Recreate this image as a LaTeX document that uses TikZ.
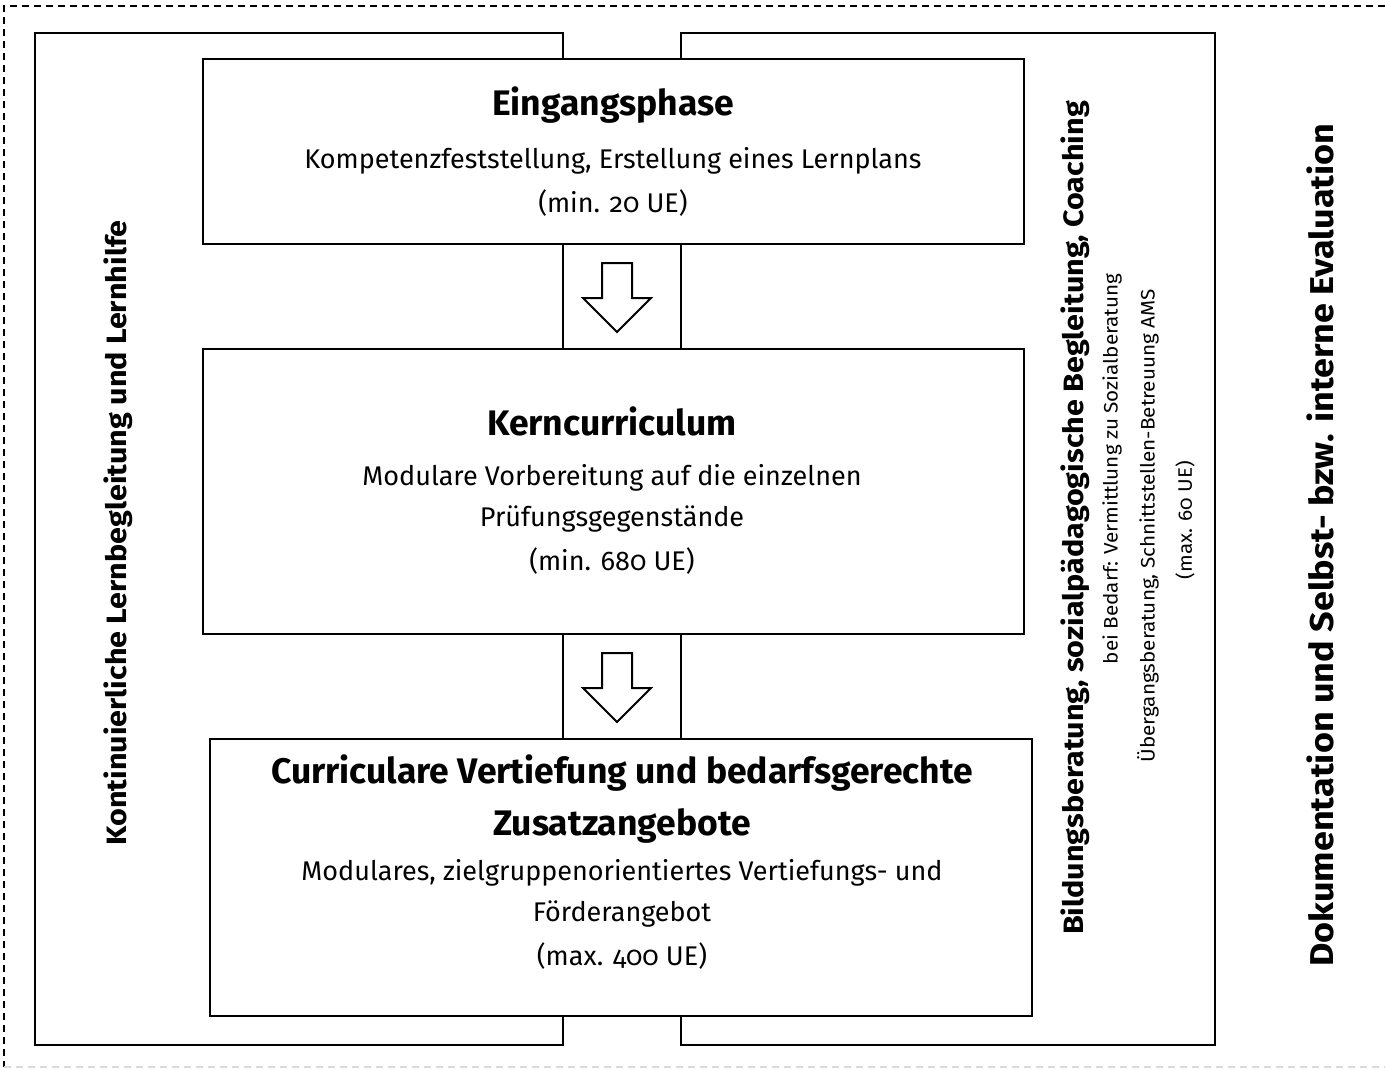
\documentclass[tikz,border=0pt]{standalone}
\usepackage{fontspec}
\setmainfont{Fira Sans}[Numbers=OldStyle]
\newfontfamily\widefont{Fira Sans}[Numbers=OldStyle, FakeStretch=1.09]
\newfontfamily\sidefont{Fira Sans}[Numbers=OldStyle, FakeStretch=1.06]
\usetikzlibrary{calc}
\tikzset{
  box/.style={draw, line width=2.2pt, anchor=north west, inner sep=0pt},
  frame/.style={line width=2.2pt, line join=miter},
  ttl/.style={font=\bfseries\fontsize{35.5}{42}\selectfont, inner sep=0pt},
  sub/.style={font=\fontsize{27}{32}\selectfont, inner sep=0pt},
  blockarrow/.style={draw, line width=2pt, fill=white, line join=miter},
  sidebold/.style={font=\widefont\bfseries\fontsize{28}{33}\selectfont, rotate=90, inner sep=0pt},
  condbold/.style={font=\widefont\bfseries\fontsize{28}{33}\selectfont, rotate=90, inner sep=0pt},
  condsmall/.style={font=\sidefont\fontsize{19.5}{23}\selectfont, rotate=90, inner sep=0pt},
  dokbold/.style={font=\widefont\bfseries\fontsize{33}{39}\selectfont, rotate=90, inner sep=0pt},
}
\begin{document}
\begin{tikzpicture}[x=1pt,y=-1pt]
\useasboundingbox (0,0) rectangle (1385,1070);
% dashed outer border
\draw[line width=1.2pt, dash pattern=on 7pt off 5pt] (1385,6) -- (4,6) -- (4,1067);
\draw[line width=1.2pt, black!15, dash pattern=on 7pt off 5pt] (4,1067) -- (1385,1067);
% boxes
\node[box, minimum width=821pt, minimum height=185pt] (b1) at (202,58) {};
\node[box, minimum width=821pt, minimum height=285pt] (b2) at (202,348) {};
\node[box, minimum width=822pt, minimum height=277pt] (b3) at (209,738) {};
% guide coordinates
\coordinate (L) at (563,0);
\coordinate (R) at (681,0);
\coordinate (FL) at (35,33);
\coordinate (FR) at (1215,33);
\coordinate (FB) at (0,1045);
% left frame
\draw[frame] (L |- b1.north) -- (L |- FL) -- (FL) -- (FL |- FB) -- (L |- FB) -- (L |- b3.south);
% right frame
\draw[frame] (R |- b1.north) -- (R |- FR) -- (FR) -- (FR |- FB) -- (R |- FB) -- (R |- b3.south);
% connectors between boxes
\draw[frame] (L |- b1.south) -- (L |- b2.north);
\draw[frame] (R |- b1.south) -- (R |- b2.north);
\draw[frame] (L |- b2.south) -- (L |- b3.north);
\draw[frame] (R |- b2.south) -- (R |- b3.north);
% block arrows
\coordinate (A1) at (617,263);
\coordinate (A2) at (617,653);
\foreach \a in {A1,A2}{
  \draw[blockarrow] ($(\a)+(-15,0)$) -- ($(\a)+(15,0)$) -- ($(\a)+(15,35)$) -- ($(\a)+(34,35)$)
    -- ($(\a)+(0,69)$) -- ($(\a)+(-34,35)$) -- ($(\a)+(-15,35)$) -- cycle;
}
% box 1 texts
\node[ttl] (t1) at (613,105) {Eingangsphase};
\node[sub] (s1a) at (613,161) {Kompetenzfeststellung, Erstellung eines Lernplans};
\node[sub] (s1b) at (613,203) {(min. 20 UE)};
% box 2 texts
\node[ttl] (t2) at (612,421) {Kerncurriculum};
\node[sub] (s2a) at (612,478) {Modulare Vorbereitung auf die einzelnen};
\node[sub] (s2b) at (612,519) {Prüfungsgegenstände};
\node[sub] (s2c) at (612,561) {(min. 680 UE)};
% box 3 texts
\node[ttl] (t3a) at (622,773) {Curriculare Vertiefung und bedarfsgerechte};
\node[ttl] (t3b) at (622,826) {Zusatzangebote};
\node[sub] (s3a) at (622,873) {Modulares, zielgruppenorientiertes Vertiefungs- und};
\node[sub] (s3b) at (622,914) {Förderangebot};
\node[sub] (s3c) at (622,956) {(max. 400 UE)};
% left side text
\node[sidebold] (lt) at (118,533) {Kontinuierliche Lernbegleitung und Lernhilfe};
% right inner texts
\node[condbold] (rt1) at (1075,518) {Bildungsberatung, sozialpädagogische Begleitung, Coaching};
\node[condsmall] (rt2) at (1112,469) {bei Bedarf: Vermittlung zu Sozialberatung};
\node[condsmall] (rt3) at (1148,526) {Übergangsberatung, Schnittstellen-Betreuung AMS};
\node[condsmall] (rt4) at (1185,520) {(max. 60 UE)};
% far right text
\node[dokbold] (dk) at (1320,545) {Dokumentation und Selbst- bzw. interne Evaluation};
\end{tikzpicture}
\end{document}
